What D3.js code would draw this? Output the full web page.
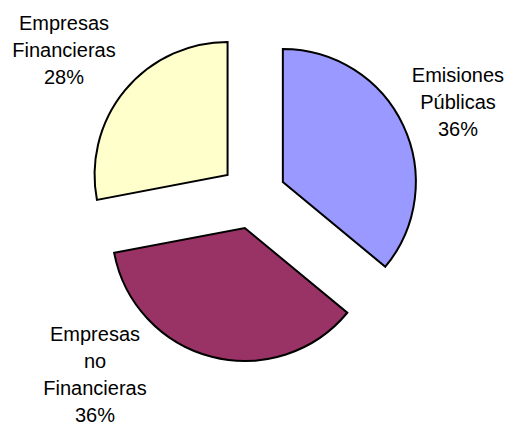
<!DOCTYPE html>
<html>
<head>
<meta charset="utf-8">
<script src="https://cdn.jsdelivr.net/npm/d3@7"></script>
<style>
  html, body { margin: 0; padding: 0; background: #fff; }
  svg { display: block; }
</style>
</head>
<body>
<svg id="chart" width="506" height="425"></svg>
<script>
const categories = ["Emisiones Públicas", "Empresas no Financieras", "Empresas Financieras"];
const values = [36, 36, 28];
const labelLines = [["Emisiones", "Públicas", "36%"], ["Empresas", "no", "Financieras", "36%"], ["Empresas", "Financieras", "28%"]];
const colors = ["#9999FF", "#993366", "#FFFFCC"];

const svg = d3.select("#chart");
const cx = 253, cy = 196, r = 133, explode = 33;
const fontSize = 20, lineH = 27;

const pie = d3.pie().sort(null).value(d => d)(values);
const arc = d3.arc().innerRadius(0).outerRadius(r);
const color = d3.scaleOrdinal().domain(categories).range(colors);

const g = svg.append("g").attr("transform", `translate(${cx},${cy})`);

pie.forEach((p, i) => {
  const mid = (p.startAngle + p.endAngle) / 2;
  const dx = explode * Math.sin(mid), dy = -explode * Math.cos(mid);
  g.append("path")
    .attr("d", arc(p))
    .attr("transform", `translate(${dx},${dy})`)
    .attr("fill", color(categories[i]))
    .attr("stroke", "#000")
    .attr("stroke-width", 2)
    .attr("stroke-linejoin", "miter");
});

// label anchor points (center x, first baseline y) in page coordinates
const labelPos = [[458, 82], [95, 341], [64, 30]];
pie.forEach((p, i) => {
  const t = svg.append("text")
    .attr("text-anchor", "middle")
    .attr("font-family", "Arial, 'Liberation Sans', sans-serif")
    .attr("font-size", fontSize)
    .attr("fill", "#000");
  labelLines[i].forEach((line, k) => {
    t.append("tspan")
      .attr("x", labelPos[i][0])
      .attr("y", labelPos[i][1] + k * lineH)
      .text(line);
  });
});
</script>
</body>
</html>
